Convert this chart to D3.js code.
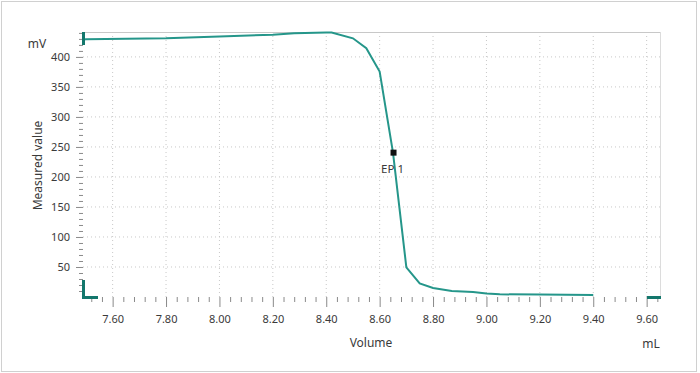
<!DOCTYPE html>
<html lang="en">
<head>
<meta charset="UTF-8">
<title>Titration curve</title>
<script src="https://cdn.jsdelivr.net/npm/d3@7"></script>
<style>
  body { margin: 0; background: #fff; }
  svg text { font-family: "Noto Sans", "Open Sans", sans-serif; fill: #3a3a3a; }
  .axis path { stroke: none; }
  .axis line { stroke: #8a8a8a; }
  .grid line { stroke: #c8c8c8; stroke-dasharray: 1,3; }
</style>
</head>
<body>
<script>
// volume in mL, measured potential in mV
const volume = [7.49, 7.50, 7.80, 8.00, 8.20, 8.28, 8.40, 8.42, 8.50, 8.55, 8.60, 8.65,
                8.70, 8.75, 8.80, 8.87, 8.95, 9.00, 9.05, 9.20, 9.40];
const potential = [429, 429.5, 431, 434, 437, 439.5, 440.5, 440.5, 431, 414.5, 375.5, 240.5,
                   49.5, 22.5, 15, 10, 8.3, 6, 4.5, 4, 3.3];
const xTicks = [7.6, 7.8, 8.0, 8.2, 8.4, 8.6, 8.8, 9.0, 9.2, 9.4, 9.6];
const yTicks = [50, 100, 150, 200, 250, 300, 350, 400];
const endPoint = { v: 8.652, mv: 240.5, label: "EP 1" };

const w = 700, h = 373;
const margin = { top: 32, right: 40, bottom: 76, left: 83 };

const svg = d3.select("body").append("svg")
    .attr("width", w)
    .attr("height", h);

// outer frame
svg.append("rect")
    .attr("x", 1.5).attr("y", 1.5)
    .attr("width", w - 5).attr("height", h - 3)
    .attr("fill", "none")
    .attr("stroke", "#d0d0d0");

const xScale = d3.scaleLinear()
    .domain([7.489, 9.65])
    .range([margin.left, w - margin.right]);
const yScale = d3.scaleLinear()
    .domain([0, 441.5])
    .range([h - margin.bottom, margin.top]);

// dotted grid
svg.append("g").attr("class", "grid")
    .selectAll("line").data(xTicks).enter().append("line")
    .attr("x1", d => xScale(d)).attr("x2", d => xScale(d))
    .attr("y1", margin.top).attr("y2", h - margin.bottom);
svg.append("g").attr("class", "grid")
    .selectAll("line").data(yTicks).enter().append("line")
    .attr("x1", margin.left).attr("x2", w - margin.right)
    .attr("y1", d => yScale(d)).attr("y2", d => yScale(d));

// frame of plot area (top and right)
svg.append("line")
    .attr("x1", margin.left).attr("x2", w - margin.right)
    .attr("y1", margin.top + 0.5).attr("y2", margin.top + 0.5)
    .attr("stroke", "#c8c8c8");
svg.append("line")
    .attr("x1", w - margin.right + 0.5).attr("x2", w - margin.right + 0.5)
    .attr("y1", margin.top).attr("y2", h - margin.bottom)
    .attr("stroke", "#dcdcdc");

// minor ticks
const xMinor = d3.range(7.52, 9.65, 0.04).filter(v => !xTicks.some(t => Math.abs(t - v) < 1e-6));
const yMinor = d3.range(10, 441, 10).filter(v => v % 50 !== 0);

const xAxis = d3.axisBottom(xScale).tickValues(xTicks)
    .tickFormat(d3.format(".2f")).tickSize(10).tickPadding(8);
const xAxisMinor = d3.axisBottom(xScale).tickValues(xMinor).tickFormat("").tickSize(5);
const yAxis = d3.axisLeft(yScale).tickValues(yTicks).tickSize(7).tickPadding(6);
const yAxisMinor = d3.axisLeft(yScale).tickValues(yMinor).tickFormat("").tickSize(4);

svg.append("g").attr("class", "axis")
    .attr("transform", "translate(0," + (h - margin.bottom) + ")")
    .call(xAxis)
    .selectAll("text").style("font-size", "11px").attr("fill", "#3a3a3a");
svg.append("g").attr("class", "axis")
    .attr("transform", "translate(0," + (h - margin.bottom) + ")")
    .call(xAxisMinor);
svg.append("g").attr("class", "axis")
    .attr("transform", "translate(" + margin.left + ",0)")
    .call(yAxis)
    .selectAll("text").style("font-size", "11px").attr("fill", "#3a3a3a");
svg.append("g").attr("class", "axis")
    .attr("transform", "translate(" + margin.left + ",0)")
    .call(yAxisMinor);

// axis titles
svg.append("text").attr("x", 37).attr("y", 48)
    .attr("text-anchor", "middle").style("font-size", "12px").text("mV");
svg.append("text")
    .attr("transform", "translate(42," + ((margin.top + h - margin.bottom) / 2 + 1) + ") rotate(-90)")
    .attr("text-anchor", "middle").style("font-size", "12px").text("Measured value");
svg.append("text").attr("x", 371).attr("y", 347)
    .attr("text-anchor", "middle").style("font-size", "12px").text("Volume");
svg.append("text").attr("x", 651).attr("y", 348)
    .attr("text-anchor", "middle").style("font-size", "12px").text("mL");

// curve
const pts = volume.map((v, i) => [v, potential[i]]);
const line = d3.line().x(d => xScale(d[0])).y(d => yScale(d[1]));
svg.append("path")
    .datum(pts)
    .attr("d", line)
    .attr("fill", "none")
    .attr("stroke", "#25968a")
    .attr("stroke-width", 2);

// endpoint marker
svg.append("rect")
    .attr("x", xScale(endPoint.v) - 3).attr("y", yScale(endPoint.mv) - 3)
    .attr("width", 6).attr("height", 6).attr("fill", "#111");
svg.append("text")
    .attr("x", xScale(endPoint.v) - 1).attr("y", yScale(endPoint.mv) + 20)
    .attr("text-anchor", "middle").style("font-size", "11.5px").attr("fill", "#444")
    .text(endPoint.label);

// scroll handles at the axis ends
const handle = "#13776c";
const x0 = xScale.range()[0], x1 = xScale.range()[1];
const y0 = yScale.range()[0], y1 = yScale.range()[1];
svg.append("line").attr("x1", x0 + 0.5).attr("x2", x0 + 0.5)
    .attr("y1", y1).attr("y2", y1 + 13)
    .attr("stroke", handle).attr("stroke-width", 3);
svg.append("path")
    .attr("d", "M" + (x0 + 0.5) + "," + (y0 - 17) + "V" + (y0 + 0.5) + "H" + (x0 + 15))
    .attr("fill", "none").attr("stroke", handle).attr("stroke-width", 3);
svg.append("line").attr("x1", x1 - 13).attr("x2", x1 + 1)
    .attr("y1", y0 + 0.5).attr("y2", y0 + 0.5)
    .attr("stroke", handle).attr("stroke-width", 3);
</script>
</body>
</html>
